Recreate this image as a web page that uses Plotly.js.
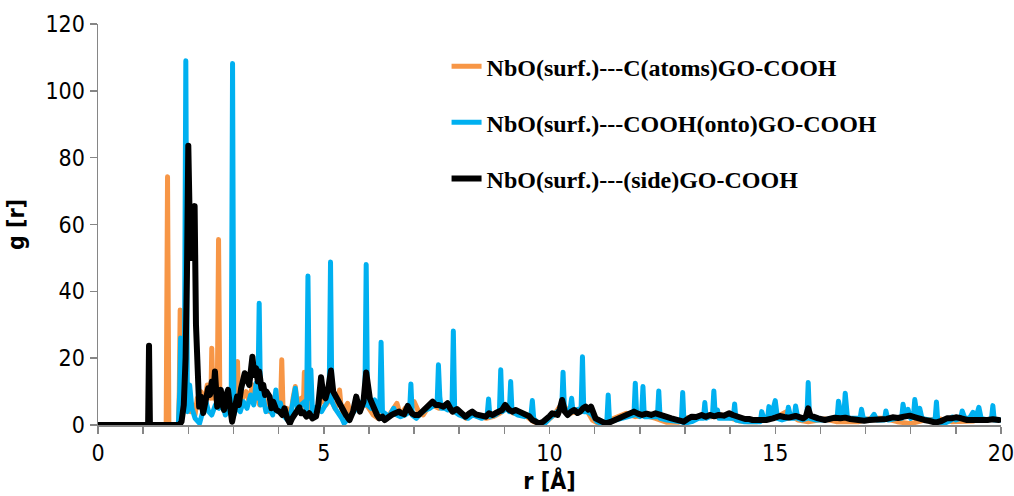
<!DOCTYPE html>
<html>
<head>
<meta charset="utf-8">
<script src="https://cdn.plot.ly/plotly-3.0.1.min.js"></script>
<style>
html,body{margin:0;padding:0;background:#fff;}
#chart{width:1014px;height:496px;}
.scatterlayer .js-line{stroke-linejoin:round !important;stroke-linecap:round !important;}
</style>
</head>
<body>
<div id="chart"></div>
<script>
// Series names
const seriesNames = [
  "NbO(surf.)---C(atoms)GO-COOH",
  "NbO(surf.)---COOH(onto)GO-COOH",
  "NbO(surf.)---(side)GO-COOH"
];
const seriesColors = ["#F79646", "#00B0F0", "#000000"];

// NbO(surf.)---C(atoms)GO-COOH
const rAtoms = [0,1.50,1.51,1.54,1.57,1.78,1.80,1.82,1.85,1.90,1.95,2.00,2.05,2.10,2.15,2.20,2.28,2.35,2.42,2.47,2.50,2.52,2.55,2.60,2.64,2.67,2.70,2.76,2.82,2.90,2.95,3.00,3.06,3.09,3.12,3.20,3.28,3.35,3.42,3.50,3.58,3.65,3.72,3.80,3.88,3.95,4.04,4.07,4.10,4.18,4.25,4.32,4.37,4.42,4.50,4.55,4.57,4.60,4.68,4.75,4.85,4.95,5.05,5.15,5.25,5.33,5.35,5.38,5.42,5.53,5.60,5.70,5.80,5.90,6.00,6.10,6.20,6.30,6.40,6.50,6.62,6.70,6.80,6.90,7.00,7.10,7.20,7.30,7.40,7.55,7.70,7.85,8.00,8.15,8.30,8.45,8.60,8.75,8.90,9.05,9.20,9.35,9.50,9.65,9.80,9.95,10.10,10.28,10.45,10.60,10.80,10.95,11.10,11.25,11.45,11.70,11.90,12.10,12.35,12.60,12.85,13.00,13.20,13.40,13.60,13.80,14.00,14.20,14.40,14.60,14.80,15.00,15.25,15.50,15.73,15.90,16.10,16.35,16.60,16.85,17.10,17.40,17.70,18.00,18.30,18.65,18.90,19.15,19.40,19.70,20.00];
const gAtoms = [0,0,0,74.3,0,0,10,34.4,3,8,5,7,4,6,3,8,10,6,12,9,8,23,8,10,6,55.5,6,8,4,6,3,5,8,19,6,8,10,7,12,9,6,9,6,4,7,5,4,19.5,4,5,1,8,11.5,6,8,6,15.8,5,7,3,4,8,6,8,5,8,10.5,6,4,6.5,3,6,4,7,5,3,2,3,2,4,6.5,3,5,4,7,4,3,5,6,5,6,4,3.5,2,3.5,2.5,2,2.5,3.5,5,3.5,3.5,2.5,1,0.3,1.2,3,6.5,3.5,4,5,1.5,0.3,1,2,3.5,2.5,3,2,0.8,0.8,2,2.5,2.5,2.5,3,2,1.2,1,1,2,2.2,4,1.5,1,1.5,1.8,1,1,1,2,2,1,0.4,1.5,1.8,1,1.2,1.2];

// NbO(surf.)---COOH(onto)GO-COOH
const rOnto = [0,1.78,1.81,1.83,1.86,1.91,1.945,1.98,2.03,2.08,2.15,2.25,2.32,2.38,2.45,2.52,2.60,2.68,2.75,2.82,2.90,2.95,2.98,3.01,3.08,3.15,3.22,3.30,3.38,3.45,3.50,3.54,3.57,3.60,3.66,3.72,3.80,3.87,3.94,3.98,4.04,4.10,4.20,4.28,4.37,4.42,4.50,4.58,4.62,4.65,4.68,4.715,4.75,4.85,4.95,5.05,5.12,5.15,5.18,5.25,5.33,5.40,5.45,5.55,5.65,5.75,5.85,5.91,5.94,5.97,6.05,6.13,6.20,6.24,6.27,6.30,6.38,6.45,6.55,6.62,6.70,6.80,6.90,6.93,6.96,7.05,7.15,7.25,7.35,7.45,7.51,7.54,7.57,7.60,7.68,7.75,7.84,7.87,7.90,8.00,8.10,8.20,8.30,8.40,8.50,8.62,8.65,8.68,8.80,8.89,8.92,8.95,9.05,9.11,9.14,9.17,9.30,9.45,9.59,9.62,9.65,9.75,9.90,10.00,10.10,10.20,10.27,10.30,10.33,10.42,10.46,10.49,10.52,10.60,10.70,10.73,10.76,10.85,10.95,11.05,11.15,11.27,11.30,11.33,11.45,11.60,11.75,11.87,11.90,11.93,12.00,12.04,12.07,12.10,12.25,12.39,12.42,12.45,12.60,12.80,12.92,12.95,12.98,13.15,13.30,13.41,13.44,13.47,13.55,13.61,13.64,13.67,13.72,13.75,13.90,14.07,14.10,14.13,14.30,14.50,14.67,14.70,14.76,14.83,14.86,14.92,15.00,15.05,15.15,15.26,15.29,15.35,15.42,15.45,15.50,15.60,15.70,15.73,15.76,15.90,16.10,16.25,16.37,16.40,16.46,16.52,16.55,16.60,16.75,16.88,16.91,16.95,17.10,17.19,17.25,17.42,17.45,17.50,17.70,17.80,17.83,17.88,17.94,18.00,18.06,18.09,18.14,18.20,18.25,18.40,18.54,18.57,18.60,18.75,18.90,18.92,19.00,19.11,19.14,19.20,19.30,19.38,19.45,19.51,19.56,19.70,19.79,19.82,19.85,19.95,20.00];
const gOnto = [0,0,10,26,3,6,109,4,12,5,2,0.5,4,7.5,4,3,6,5,7,3,5,4,108.2,3,6,4,7,5,9,6,12.5,8,36.4,6,8,4,5,3,10.5,4,6.6,3,1.5,4,11,5,6,7,4,44.6,8,16.5,4,5.5,4,6,8,48.8,7,5,3.5,2,0.5,2,4,5,7,6,48,6,5,7.5,4,5,24.8,4,3,2.5,5,3,2.5,3,4,12.3,3,2,3.5,4.5,5,6,6,18,8.5,5,5,4.5,5,28.1,4,3,2.5,2,3,2.5,2,3,7.8,2.5,3,4,16.5,4,5,4,13,4,3,2.5,3,7.3,2,0.5,0.5,2,3,4,5,15.8,5,4,5,8,4,4.5,5,20.4,4,4,3,1,0.5,1,9,1,1.5,2,2.5,3,12.5,3,2.5,3,11.5,2.5,2.5,2.5,10.2,2,1.5,1,1,9.7,0.5,1,2,2,6.7,2,2.5,3,10.2,3,4.5,2,2,2,6.3,1.5,1,1,1,4,1.5,2,5.5,3,7.3,2,1.5,2,5.3,2,2,5.7,2,1.5,2,12.7,2,1.5,1.5,2,2,7.1,3,3,9.5,2,2,2,4.7,2,1.5,3.2,1.5,1.5,4.2,1.5,2,2,6.2,2.5,4.7,2,2.5,7.6,3,5,2,1.5,1.5,6.9,1,0.5,1.5,2.4,1.5,2,4.2,2,2,3.8,2.5,5.3,2,1.5,2,5.8,1.5,1.5,1.5];

// NbO(surf.)---(side)GO-COOH
const rSide = [0,1.10,1.11,1.13,1.15,1.80,1.85,1.90,1.94,1.97,2.00,2.03,2.06,2.09,2.11,2.14,2.17,2.20,2.24,2.28,2.33,2.38,2.44,2.48,2.52,2.56,2.59,2.64,2.68,2.72,2.76,2.79,2.84,2.88,2.93,2.97,3.03,3.08,3.12,3.17,3.25,3.30,3.35,3.42,3.46,3.50,3.54,3.57,3.62,3.66,3.70,3.73,3.80,3.84,3.88,3.95,4.02,4.08,4.13,4.19,4.25,4.30,4.35,4.40,4.46,4.50,4.55,4.62,4.68,4.75,4.83,4.88,4.94,4.99,5.04,5.10,5.16,5.21,5.27,5.31,5.35,5.42,5.49,5.57,5.65,5.72,5.80,5.88,5.94,6.02,6.07,6.12,6.18,6.23,6.30,6.35,6.42,6.50,6.58,6.67,6.72,6.78,6.86,6.90,6.95,7.02,7.10,7.18,7.25,7.33,7.41,7.48,7.55,7.65,7.74,7.80,7.85,7.95,8.03,8.14,8.22,8.29,8.37,8.44,8.52,8.59,8.66,8.74,8.81,8.88,8.95,9.02,9.10,9.18,9.25,9.33,9.40,9.47,9.55,9.62,9.70,9.77,9.85,9.92,10.00,10.06,10.13,10.18,10.23,10.28,10.34,10.40,10.48,10.55,10.62,10.68,10.74,10.80,10.86,10.92,11.02,11.12,11.24,11.35,11.46,11.57,11.68,11.78,11.87,11.96,12.05,12.15,12.25,12.35,12.47,12.58,12.70,12.80,12.90,12.97,13.06,13.15,13.25,13.37,13.46,13.55,13.65,13.75,13.86,13.98,14.06,14.14,14.24,14.33,14.42,14.50,14.65,14.80,14.95,15.10,15.20,15.30,15.45,15.55,15.62,15.68,15.73,15.78,15.85,15.95,16.10,16.20,16.32,16.44,16.55,16.66,16.78,16.88,16.97,17.08,17.20,17.35,17.47,17.60,17.72,17.85,17.98,18.10,18.20,18.30,18.42,18.55,18.68,18.80,18.90,19.00,19.12,19.25,19.40,19.55,19.70,19.82,19.95,20.00];
const gSide = [0,0,0,23.7,0,0,1,6,20,45,83.6,62,50,58,62,65.5,30,12,5.5,8.5,3.6,7,11,9,13,10,16,5.5,9,10.5,6,4.5,9,10.5,5,1,5,8.5,6,11,15.5,13,12,20.4,15,17,13,16,11,12,9,10,8.5,5,7,4.5,4,3,5,2,0.5,2,3,4.5,5.3,3.5,3.8,2.5,3.5,2,2.6,6,14.3,9,8,11,16.3,10,8.5,7,6,4.5,3,1.5,4,8.5,4,7,15.7,8,6,4,3,2,2.5,1.5,2.5,3,3.5,4,3.5,3.2,5.7,4.5,3.5,3,3,4,5,6,7,6,6,5.5,6.5,5,4,4.8,4,2.5,3.4,4,3.2,3,2.4,2.5,3.5,3,3.6,4,4.5,6,4.6,4,4.5,4,3.5,3,2.6,1.5,1,0.5,0.9,1.5,2.6,3.5,3,3,4.8,7.5,4,3,4,4.5,3.6,4,5,5.5,4.6,5.5,2,1.2,0.5,0.9,1.5,2,2.5,3.2,4,3.4,3,3.4,3,3.5,2.8,2.5,2,1.5,1.2,1,1.8,2.5,2.4,3,2.5,3,2.6,3,2.8,3.5,3,2.5,2.2,1.8,1.8,1.5,1.5,1.5,2,2.7,2.4,2.2,2.7,2.2,2,2.6,5,2.8,2.4,2,1.5,1.8,2.2,2,2.2,1.8,1.5,1.6,1.3,1.5,1.6,1.5,1.8,2.3,2.1,2.5,2.8,2.3,1.8,1.5,1.2,0.7,1.2,2,2,2.3,2,1.5,1.5,1.3,1.5,1.7,1.5];

const xTickVals = [0,5,10,15,20];
const yTickVals = [0,20,40,60,80,100,120];

const tickFont = {family: "'Liberation Sans Narrow', 'DejaVu Sans Condensed', 'Open Sans', sans-serif", size: 23, color: "#000"};

const traces = [
  {x: rAtoms, y: gAtoms, name: seriesNames[0], color: seriesColors[0], w: 5, grp: "a"},
  {x: rOnto, y: gOnto, name: seriesNames[1], color: seriesColors[1], w: 5, grp: "b"},
  {x: rSide, y: gSide, name: seriesNames[2], color: seriesColors[2], w: 6, grp: "c"}
].map(s => ({
  type: "scatter", mode: "lines", x: s.x, y: s.y, name: s.name, legendgroup: s.grp,
  line: {color: s.color, width: s.w, shape: "linear"}
}));

const layout = {
  width: 1014, height: 496,
  margin: {l: 98, r: 13, t: 24, b: 71},
  paper_bgcolor: "#fff", plot_bgcolor: "#fff",
  showlegend: true,
  legend: {
    x: 0.386, y: 0.95, xanchor: "left", yanchor: "top",
    traceorder: "grouped", tracegroupgap: 22,
    bgcolor: "rgba(0,0,0,0)",
    font: {family: "'Liberation Serif', 'Times New Roman', serif", size: 24, color: "#000", weight: "bold"}
  },
  xaxis: {
    range: [0, 20], tickvals: xTickVals, ticktext: xTickVals.map(String),
    ticklabeloverflow: "allow",
    showgrid: false, zeroline: false,
    showline: true, linecolor: "#868686", linewidth: 1.5,
    ticks: "outside", ticklen: 7, tickcolor: "#868686", tickwidth: 1.5,
    minor: {dtick: 1, ticks: "outside", ticklen: 7, tickcolor: "#868686", tickwidth: 1.5, showgrid: false},
    tickfont: tickFont,
    title: {text: "r [Å]", font: {family: tickFont.family, size: 23, color: "#000", weight: "bold"}, standoff: 8}
  },
  yaxis: {
    range: [0, 120], tickvals: yTickVals, ticktext: yTickVals.map(String),
    showgrid: false, zeroline: false,
    showline: true, linecolor: "#868686", linewidth: 1.5,
    ticks: "outside", ticklen: 7, tickcolor: "#868686", tickwidth: 1.5,
    tickfont: tickFont,
    title: {text: "g [r]", font: {family: tickFont.family, size: 23, color: "#000", weight: "bold"}, standoff: 14}
  }
};

Plotly.newPlot("chart", traces, layout, {displayModeBar: false, staticPlot: true});
</script>
</body>
</html>
